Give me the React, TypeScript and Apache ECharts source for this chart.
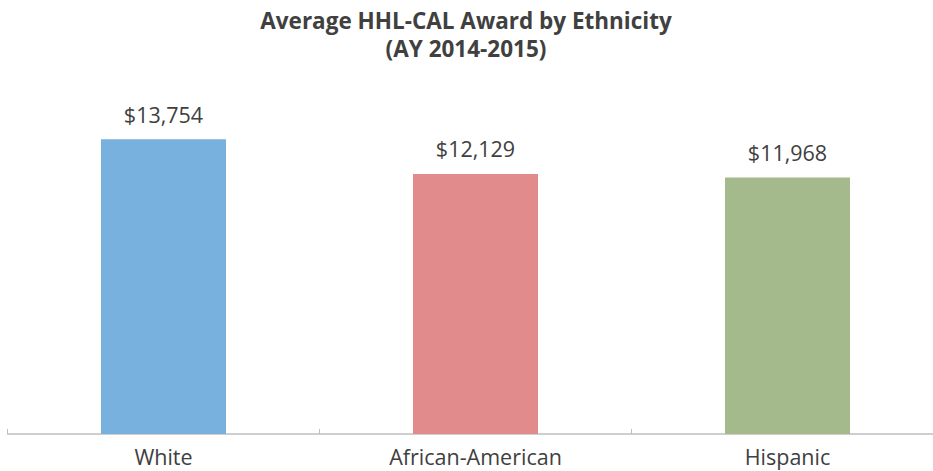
import React, { useEffect, useRef } from "react";
import * as echarts from "echarts";

const categories = ["White", "African-American", "Hispanic"];
const values = [13754, 12129, 11968];
const barColors = ["#78b1dd", "#e18b8d", "#a5ba8c"];
const titleLines = ["Average HHL-CAL Award by Ethnicity", "(AY 2014-2015)"];

export default function App() {
  const ref = useRef<HTMLDivElement>(null);
  useEffect(() => {
    const chart = echarts.init(ref.current!, null, { renderer: "svg" });
    chart.setOption({
      animation: false,
      title: {
        text: titleLines.join("\n"),
        left: 461,
        top: 1,
        textAlign: "center",
        textStyle: {
          fontFamily: "Open Sans",
          fontWeight: "bold",
          fontSize: 22.5,
          lineHeight: 28,
          color: "#404040",
        },
      },
      grid: { left: 7.5, top: 91, width: 936, height: 343, containLabel: false },
      xAxis: {
        type: "category",
        data: categories,
        axisLine: { lineStyle: { color: "#bfbfbf", width: 1.5 } },
        axisTick: { show: true, length: 5, inside: true, lineStyle: { color: "#bfbfbf" } },
        axisLabel: {
          color: "#404040",
          fontSize: 21.5,
          fontFamily: "Open Sans",
          margin: 11,
        },
      },
      yAxis: {
        type: "value",
        min: 0,
        max: 16000,
        show: false,
        splitLine: { show: false },
      },
      series: [
        {
          type: "bar",
          barWidth: 125,
          data: values.map((v, i) => ({ value: v, itemStyle: { color: barColors[i] } })),
          label: {
            show: true,
            position: "top",
            distance: 14,
            color: "#404040",
            fontSize: 21.5,
            fontFamily: "Open Sans",
            formatter: (p: any) => "$" + Number(p.value).toLocaleString("en-US"),
          },
        },
      ],
    });
    return () => chart.dispose();
  }, []);
  return (
    <div
      ref={ref}
      style={{ position: "fixed", left: 0, top: 0, width: 960, height: 471, background: "#fff" }}
    />
  );
}
